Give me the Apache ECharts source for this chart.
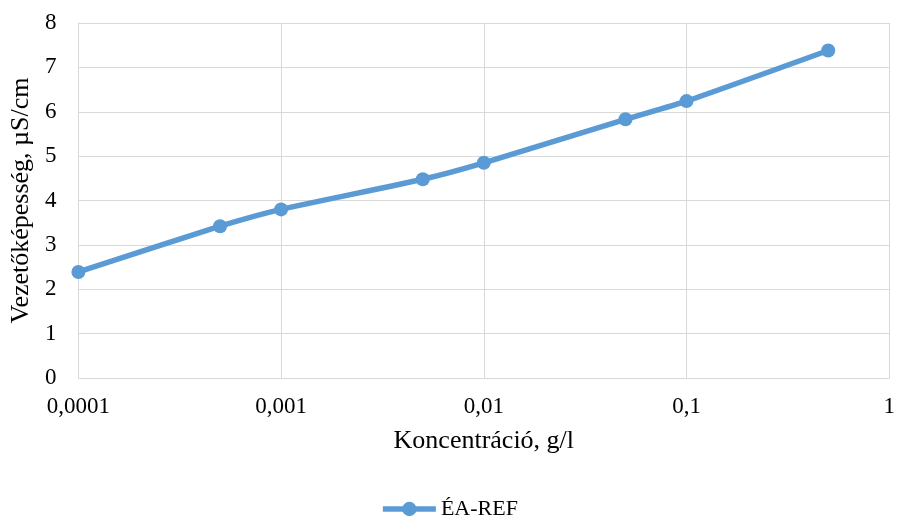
<!DOCTYPE html>
<html><head><meta charset="utf-8">
<script src="https://cdn.jsdelivr.net/npm/echarts@6/dist/echarts.min.js"></script>
<style>html,body{margin:0;padding:0;background:#fff}#c{width:898px;height:519px}</style>
</head><body><div id="c"></div>
<script>
const concentrations = [0.0001, 0.0005, 0.001, 0.005, 0.01, 0.05, 0.1, 0.5];
const conductivity = [2.39, 3.42, 3.80, 4.48, 4.85, 5.83, 6.24, 7.38];
const xTickValues = [0.0001, 0.001, 0.01, 0.1, 1];
const xTickLabels = ['0,0001', '0,001', '0,01', '0,1', '1'];
const seriesName = 'ÉA-REF';
const xTitle = 'Koncentráció, g/l';
const yTitle = 'Vezetőképesség, µS/cm';

const font = '"Liberation Serif", "Times New Roman", serif';
function xLabel(v) {
  let best = 0, bd = Infinity;
  xTickValues.forEach((t, i) => { const d = Math.abs(Math.log10(v) - Math.log10(t)); if (d < bd) { bd = d; best = i; } });
  return bd < 0.01 ? xTickLabels[best] : '';
}
const chart = echarts.init(document.getElementById('c'));
chart.setOption({
  animation: false,
  grid: { left: 76, right: 7, top: 23, bottom: 141, containLabel: false },
  legend: {
    top: 493, left: 'center', itemWidth: 53, itemHeight: 18, itemGap: 10,
    lineStyle: { width: 5.5 },
    textStyle: { fontFamily: font, fontSize: 22, color: '#000' },
    data: [seriesName]
  },
  xAxis: {
    type: 'log', logBase: 10, min: 0.0001, max: 1,
    name: xTitle, nameLocation: 'middle', nameGap: 50,
    nameTextStyle: { fontFamily: font, fontSize: 26, color: '#000' },
    axisLine: { lineStyle: { color: '#d9d9d9', width: 1 } },
    axisTick: { show: false },
    splitLine: { show: true, lineStyle: { color: '#d9d9d9', width: 1 } },
    minorTick: { show: false }, minorSplitLine: { show: false },
    axisLabel: { fontFamily: font, fontSize: 23, color: '#000', margin: 17, formatter: xLabel }
  },
  yAxis: {
    type: 'value', min: 0, max: 8, interval: 1,
    name: yTitle, nameLocation: 'middle', nameGap: 41,
    nameTextStyle: { fontFamily: font, fontSize: 26, color: '#000' },
    axisLine: { show: true, lineStyle: { color: '#d9d9d9' } },
    axisTick: { show: false },
    splitLine: { show: true, lineStyle: { color: '#d9d9d9', width: 1 } },
    axisLabel: { fontFamily: font, fontSize: 23, color: '#000', margin: 22 }
  },
  series: [{
    name: seriesName, type: 'line', smooth: 0.2,
    data: concentrations.map((x, i) => [x, conductivity[i]]),
    symbol: 'circle', symbolSize: 14,
    lineStyle: { color: '#5b9bd5', width: 5.5 },
    itemStyle: { color: '#5b9bd5' }
  }]
});
</script></body></html>
